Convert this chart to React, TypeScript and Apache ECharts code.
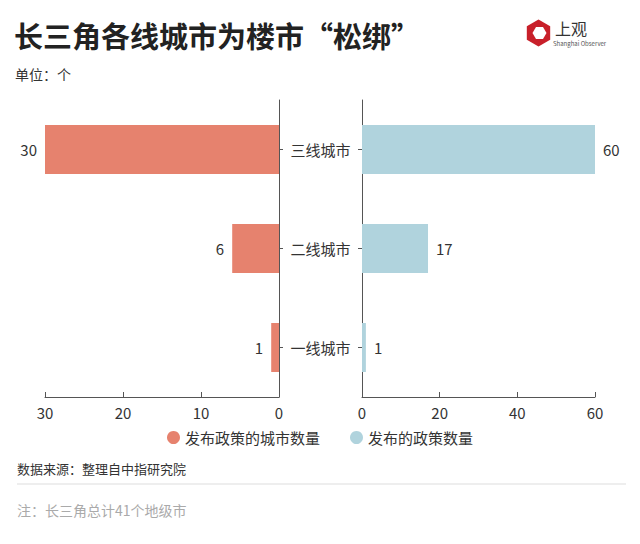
import React, { useEffect, useRef } from "react";
import * as echarts from "echarts";

const categories = ["一线城市", "二线城市", "三线城市"];
const cityCounts = [1, 6, 30];
const policyCounts = [1, 17, 60];
const seriesNames = ["发布政策的城市数量", "发布的政策数量"];
const leftTicks = { min: 0, max: 30, interval: 10 };
const rightTicks = { min: 0, max: 60, interval: 20 };

const FONT = "'Noto Sans CJK SC', 'Noto Sans', sans-serif";
const RED = "#E6826E";
const BLUE = "#B0D3DD";

function hexPoints(cx: number, cy: number, r: number, rot: number) {
  const pts: number[][] = [];
  for (let i = 0; i < 6; i++) {
    const a = rot + (i * Math.PI) / 3;
    pts.push([cx + r * Math.cos(a), cy + r * Math.sin(a)]);
  }
  return pts;
}

export default function App() {
  const ref = useRef<HTMLDivElement>(null);
  useEffect(() => {
    if (!ref.current) return;
    const chart = echarts.init(ref.current, undefined, { renderer: "svg" });
    const axisLine = { lineStyle: { color: "#555", width: 1 } };
    chart.setOption({
      animation: false,
      backgroundColor: "#fff",
      textStyle: { fontFamily: FONT },
      title: [
        {
          text: "长三角各线城市为楼市“松绑”",
          left: 14,
          top: 20,
          padding: 0,
          textStyle: { fontSize: 29, fontWeight: "bold", color: "#222", fontFamily: FONT },
        },
        {
          text: "单位：个",
          left: 15,
          top: 67,
          padding: 0,
          textStyle: { fontSize: 14, fontWeight: "normal", color: "#333", fontFamily: FONT },
        },
      ],
      legend: {
        bottom: 544 - 450,
        left: "center",
        icon: "circle",
        itemWidth: 13,
        itemHeight: 13,
        itemGap: 30,
        textStyle: { fontSize: 15, color: "#333", fontFamily: FONT },
        data: seriesNames,
      },
      grid: [
        { left: 45, right: 640 - 279, top: 100, height: 297 },
        { left: 362, right: 640 - 595, top: 100, height: 297 },
      ],
      xAxis: [
        {
          type: "value",
          gridIndex: 0,
          inverse: true,
          ...leftTicks,
          splitLine: { show: false },
          axisLine: { show: true, ...axisLine },
          axisTick: { show: true, inside: true, length: 5, lineStyle: { color: "#555" } },
          axisLabel: { fontSize: 15, color: "#333", margin: 8, fontFamily: FONT },
        },
        {
          type: "value",
          gridIndex: 1,
          ...rightTicks,
          splitLine: { show: false },
          axisLine: { show: true, ...axisLine },
          axisTick: { show: true, inside: true, length: 5, lineStyle: { color: "#555" } },
          axisLabel: { fontSize: 15, color: "#333", margin: 8, fontFamily: FONT },
        },
      ],
      yAxis: [
        {
          type: "category",
          gridIndex: 0,
          position: "right",
          data: categories,
          axisLine: { show: true, ...axisLine },
          axisTick: { show: true, alignWithLabel: true, length: 4, lineStyle: { color: "#555" } },
          axisLabel: {
            fontSize: 15,
            color: "#333",
            margin: 41.5,
            align: "center",
            fontFamily: FONT,
          },
        },
        {
          type: "category",
          gridIndex: 1,
          position: "left",
          data: categories,
          axisLine: { show: true, ...axisLine },
          axisTick: { show: true, alignWithLabel: true, length: 4, lineStyle: { color: "#555" } },
          axisLabel: { show: false },
        },
      ],
      series: [
        {
          name: seriesNames[0],
          type: "bar",
          xAxisIndex: 0,
          yAxisIndex: 0,
          data: cityCounts,
          barWidth: 49,
          itemStyle: { color: RED },
          label: {
            show: true,
            position: "left",
            distance: 8,
            fontSize: 15,
            color: "#333",
            fontFamily: FONT,
          },
        },
        {
          name: seriesNames[1],
          type: "bar",
          xAxisIndex: 1,
          yAxisIndex: 1,
          data: policyCounts,
          barWidth: 49,
          itemStyle: { color: BLUE },
          label: {
            show: true,
            position: "right",
            distance: 8,
            fontSize: 15,
            color: "#333",
            fontFamily: FONT,
          },
        },
      ],
      graphic: [
        {
          type: "polygon",
          shape: { points: hexPoints(538.5, 33, 13.5, Math.PI / 6) },
          style: { fill: "#C8202A" },
        },
        {
          type: "polygon",
          shape: { points: hexPoints(539.5, 33, 7, 0) },
          style: { fill: "#fff" },
        },
        {
          type: "text",
          x: 555,
          y: 20,
          style: { text: "上观", fontSize: 16, fill: "#333", fontFamily: "'Noto Sans CJK SC'", letterSpacing: 8 },
        },
        {
          type: "text",
          x: 553,
          y: 40,
          style: { text: "Shanghai Observer", fontSize: 6, fill: "#555", fontFamily: FONT },
        },
        {
          type: "text",
          x: 17,
          y: 462,
          style: { text: "数据来源：整理自中指研究院", fontSize: 13, fill: "#333", fontFamily: FONT },
        },
        {
          type: "line",
          shape: { x1: 17, y1: 484, x2: 626, y2: 484 },
          style: { stroke: "#ddd", lineWidth: 1 },
        },
        {
          type: "text",
          x: 17,
          y: 503,
          style: { text: "注：长三角总计41个地级市", fontSize: 14, fill: "#aaa", fontFamily: FONT },
        },
      ],
    });
    return () => chart.dispose();
  }, []);
  return (
    <div
      ref={ref}
      style={{ width: 640, height: 544, position: "absolute", left: 0, top: 0 }}
    />
  );
}
